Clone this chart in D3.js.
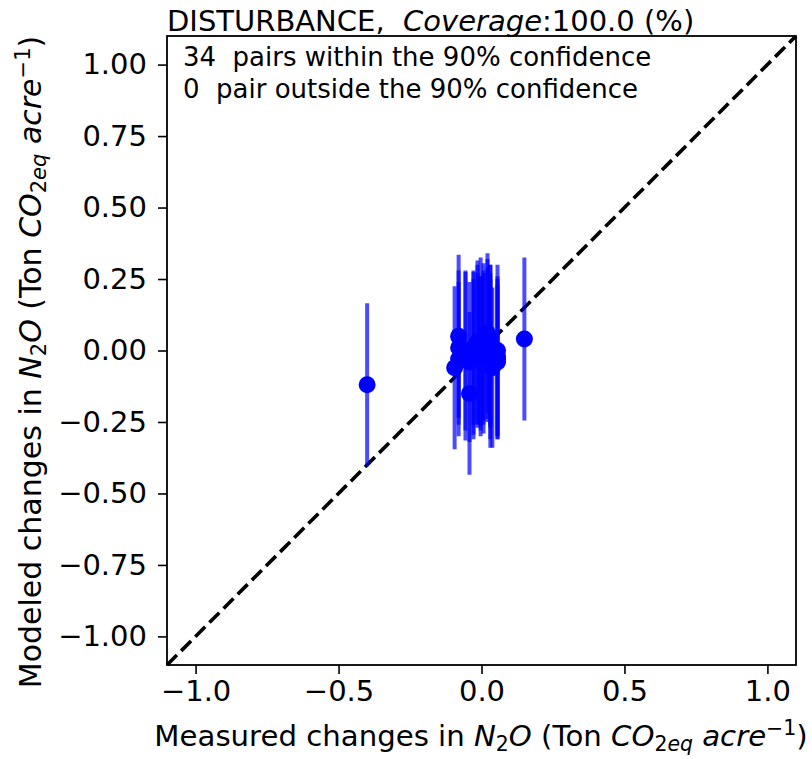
<!DOCTYPE html>
<html>
<head>
<meta charset="utf-8">
<script src="https://cdn.jsdelivr.net/npm/d3@7"></script>
<style>
  body { margin: 0; background: #fff; }
  text { font-family: "DejaVu Sans", sans-serif; fill: #000; }
</style>
</head>
<body>
<div id="chart"></div>
<script>
var width = 812;
var height = 759;

// measured vs modeled N2O changes (34 pairs), with modeled 90% half-width
var measured = [-0.40, 0.15, -0.094, -0.08, -0.056, -0.042, -0.028, -0.014, -0.003, 0.007,
    0.021, 0.031, 0.056, 0.038, -0.08, -0.056, -0.042, -0.028, -0.028, -0.014,
    -0.014, -0.003, 0.007, 0.007, 0.021, 0.021, 0.031, 0.031, 0.056, 0.056,
    0.056, -0.08, 0.031, -0.003];
var modeled = [-0.12, 0.04, -0.06, 0.05, -0.02, -0.15, -0.01, 0.03, 0.03, 0.03,
    0.06, -0.02, 0.00, -0.06, -0.03, 0.00, -0.04, 0.01, -0.03, 0.02,
    0.0, -0.02, 0.01, -0.01, 0.04, 0.02, -0.03, 0.0, -0.02, -0.04,
    -0.03, 0.01, 0.02, -0.01];
var errHalf = [0.285, 0.285, 0.285, 0.285, 0.295, 0.285, 0.285, 0.285, 0.295, 0.275,
    0.28, 0.32, 0.30, 0.28, 0.27, 0.28, 0.28, 0.27, 0.28, 0.28,
    0.27, 0.28, 0.27, 0.28, 0.28, 0.27, 0.28, 0.27, 0.28, 0.27,
    0.28, 0.27, 0.28, 0.27];

var xTicks = [-1.0, -0.5, 0.0, 0.5, 1.0];
var yTicks = [-1.0, -0.75, -0.5, -0.25, 0.0, 0.25, 0.5, 0.75, 1.0];
var domain = [-1.1, 1.1];

var margin = {left: 167, top: 36, right: 16, bottom: 94};

var svg = d3.select("#chart").append("svg")
    .attr("width", width)
    .attr("height", height);

var x = d3.scaleLinear().domain(domain).range([margin.left, width - margin.right]);
var y = d3.scaleLinear().domain(domain).range([height - margin.bottom, margin.top]);

var tickFont = 29;

// axes
var xAxis = svg.append("g")
    .attr("transform", "translate(0," + (height - margin.bottom) + ")")
    .call(d3.axisBottom(x).tickValues(xTicks).tickFormat(d3.format(".1f")).tickSize(9).tickPadding(6));
var yAxis = svg.append("g")
    .attr("transform", "translate(" + margin.left + ",0)")
    .call(d3.axisLeft(y).tickValues(yTicks).tickFormat(d3.format(".2f")).tickSize(9).tickPadding(11));

[xAxis, yAxis].forEach(function (g) {
    g.select(".domain").remove();
    g.selectAll(".tick line").attr("stroke", "#000").attr("stroke-width", 1.6);
    g.selectAll(".tick text")
        .attr("font-family", "DejaVu Sans")
        .attr("font-size", tickFont)
        .attr("fill", "#000");
});

// 1:1 line
svg.append("line")
    .attr("x1", x(domain[0])).attr("y1", y(domain[0]))
    .attr("x2", x(domain[1])).attr("y2", y(domain[1]))
    .attr("stroke", "#000")
    .attr("stroke-width", 3.6)
    .attr("stroke-dasharray", "14,6");

// error bars
svg.append("g").selectAll("line")
    .data(measured)
    .enter().append("line")
    .attr("x1", function (d) { return x(d); })
    .attr("x2", function (d) { return x(d); })
    .attr("y1", function (d, i) { return y(modeled[i] + errHalf[i]); })
    .attr("y2", function (d, i) { return y(modeled[i] - errHalf[i]); })
    .attr("stroke", "blue")
    .attr("stroke-opacity", 0.7)
    .attr("stroke-width", 4);

// points
svg.append("g").selectAll("circle")
    .data(measured)
    .enter().append("circle")
    .attr("cx", function (d) { return x(d); })
    .attr("cy", function (d, i) { return y(modeled[i]); })
    .attr("r", 8.5)
    .attr("fill", "blue");

// frame
svg.append("rect")
    .attr("x", margin.left).attr("y", margin.top)
    .attr("width", width - margin.left - margin.right)
    .attr("height", height - margin.top - margin.bottom)
    .attr("fill", "none")
    .attr("stroke", "#000")
    .attr("stroke-width", 1.8);

// rich text with italic / sub / sup parts
function rich(textSel, parts, size) {
    var cur = 0;
    parts.forEach(function (p) {
        var target = p.sub ? size * 0.17 : (p.sup ? -size * 0.38 : 0);
        var ts = textSel.append("tspan").text(p.t).attr("dy", target - cur);
        cur = target;
        if (p.i) ts.attr("font-style", "italic");
        if (p.sub || p.sup) ts.attr("font-size", size * 0.7);
    });
}

var unitParts = function (lead) {
    return [
        {t: lead},
        {t: "N", i: true}, {t: "2", sub: true}, {t: "O", i: true},
        {t: " (Ton "},
        {t: "CO", i: true}, {t: "2", sub: true}, {t: "eq", sub: true, i: true},
        {t: " acre", i: true}, {t: "\u22121", sup: true},
        {t: ")"}
    ];
};

var xl = svg.append("text")
    .attr("x", 481).attr("y", 746)
    .attr("text-anchor", "middle")
    .attr("font-size", 29.2);
rich(xl, unitParts("Measured changes in "), 29.2);

var yl = svg.append("text")
    .attr("transform", "translate(41,362) rotate(-90)")
    .attr("text-anchor", "middle")
    .attr("font-size", 30);
rich(yl, unitParts("Modeled changes in "), 30);

// title
var title = svg.append("text")
    .attr("x", margin.left).attr("y", 31)
    .attr("font-size", 29);
rich(title, [{t: "DISTURBANCE,\u00a0\u00a0"}, {t: "Coverage", i: true}, {t: ":100.0 (%)"}], 29);

// annotations
var notes = ["34  pairs within the 90% confidence", "0  pair outside the 90% confidence"];
svg.append("g").selectAll("text")
    .data(notes)
    .enter().append("text")
    .attr("x", margin.left + 16)
    .attr("y", function (d, i) { return 66 + i * 32; })
    .attr("font-size", 26)
    .style("white-space", "pre")
    .text(function (d) { return d; });
</script>
</body>
</html>
